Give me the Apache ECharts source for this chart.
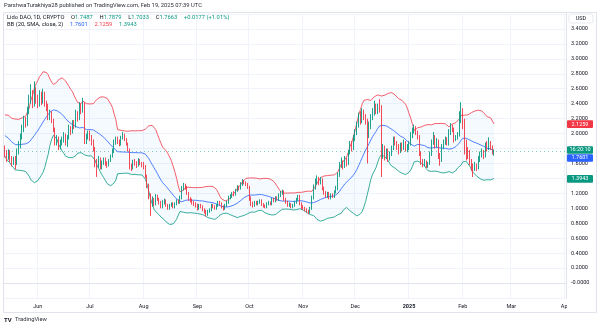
<!DOCTYPE html>
<html><head><meta charset="utf-8">
<script src="https://cdn.jsdelivr.net/npm/echarts/dist/echarts.min.js"></script>
<style>html,body{margin:0;padding:0;background:#fff}#c{width:600px;height:325px}</style>
</head><body><div id="c"></div>
<script>
// ---- data (daily candles, Lido DAO 1D) ----
const startDate = '2024-05-13';
const axisDays = 324; // x axis runs to 2025-04-01
const monthNames = ['2025','Feb','Mar','Apr','May','Jun','Jul','Aug','Sep','Oct','Nov','Dec'];
// closes before the first visible candle (needed for the 20-day bands)
const preCloses = [2.10,2.05,2.18,2.12,2.02,1.96,1.88,1.80,1.92,1.98,2.06,2.14,2.20,2.08,1.96,1.90,1.84,1.76,1.80];

const closeMay = [1.74,1.68,1.75,1.67,1.62,1.66,1.62,1.78,1.84,1.96,2.08,2.18,2.14,2.30,2.44,2.52,2.40,2.56,2.46];
const highMay  = [1.84,1.78,1.79,1.78,1.70,1.69,1.70,1.80,1.90,2.00,2.12,2.24,2.22,2.36,2.52,2.66,2.58,2.70,2.62];
const lowMay   = [1.68,1.62,1.65,1.62,1.56,1.58,1.52,1.58,1.72,1.80,1.92,2.02,2.08,2.10,2.26,2.40,2.34,2.36,2.40];

const closeJun = [2.40,2.50,2.42,2.52,2.40,2.34,2.22,2.28,2.18,2.05,1.88,1.94,1.82,1.88,1.92,1.98,1.86,1.95,2.08,2.02,2.15,2.10,2.28,2.20,2.38,2.30,2.40,1.90,1.96,2.00];
const highJun  = [2.52,2.58,2.56,2.60,2.56,2.44,2.40,2.32,2.30,2.20,2.08,1.98,1.96,1.92,1.96,2.02,2.00,1.98,2.12,2.10,2.18,2.18,2.32,2.30,2.42,2.40,2.48,2.42,2.00,2.04];
const lowJun   = [2.34,2.36,2.38,2.40,2.36,2.30,2.18,2.18,2.14,2.02,1.84,1.84,1.78,1.79,1.84,1.88,1.84,1.82,1.92,1.98,2.00,2.06,2.08,2.16,2.18,2.26,2.28,1.86,1.86,1.92];

const closeJul = [1.94,1.88,1.80,1.62,1.58,1.66,1.56,1.62,1.65,1.60,1.58,1.64,1.70,1.76,1.88,1.92,1.90,1.86,1.94,1.98,1.92,1.86,1.78,1.56,1.54,1.62,1.60,1.58,1.64,1.60,1.58];
const highJul  = [2.04,1.98,1.92,1.82,1.66,1.70,1.68,1.64,1.68,1.68,1.63,1.66,1.72,1.80,1.92,1.96,1.96,1.92,1.97,2.02,2.00,1.94,1.88,1.80,1.60,1.65,1.66,1.63,1.67,1.66,1.62];
const lowJul   = [1.90,1.84,1.76,1.55,1.42,1.54,1.52,1.52,1.58,1.57,1.54,1.56,1.62,1.68,1.74,1.85,1.86,1.83,1.84,1.92,1.90,1.84,1.76,1.52,1.50,1.52,1.57,1.54,1.56,1.58,1.55];

const closeAug = [1.55,1.42,1.30,1.16,1.05,1.12,1.06,1.16,1.12,1.08,1.02,1.08,1.10,1.04,1.00,1.04,1.06,1.02,1.06,1.10,1.08,1.14,1.26,1.30,1.28,1.20,1.12,1.10,1.08,1.06,1.04];
const highAug  = [1.62,1.58,1.45,1.33,1.20,1.16,1.14,1.19,1.18,1.14,1.10,1.11,1.13,1.12,1.06,1.06,1.08,1.08,1.08,1.12,1.12,1.17,1.30,1.34,1.33,1.30,1.22,1.15,1.13,1.10,1.08];
const lowAug   = [1.52,1.40,1.27,1.12,0.90,1.02,1.03,1.04,1.10,1.05,1.00,1.00,1.05,1.02,0.98,0.98,1.02,1.00,1.00,1.04,1.06,1.06,1.12,1.24,1.25,1.18,1.10,1.08,1.05,1.03,1.01];

const closeSep = [1.00,1.04,1.02,0.98,0.96,0.92,0.96,0.98,1.04,1.02,1.00,1.04,1.08,1.06,1.02,1.00,1.04,1.08,1.14,1.16,1.20,1.18,1.24,1.28,1.26,1.32,1.36,1.34,1.32,1.28];
const highSep  = [1.06,1.06,1.06,1.04,1.00,0.98,0.98,1.00,1.06,1.06,1.04,1.06,1.10,1.10,1.08,1.04,1.06,1.10,1.17,1.19,1.22,1.23,1.26,1.31,1.30,1.35,1.39,1.38,1.36,1.34];
const lowSep   = [0.97,0.98,1.00,0.96,0.93,0.89,0.90,0.94,0.96,1.00,0.98,0.98,1.02,1.04,1.00,0.97,0.98,1.02,1.06,1.12,1.14,1.16,1.17,1.22,1.24,1.25,1.30,1.32,1.30,1.26];

const closeOct = [1.14,1.06,1.04,1.08,1.06,1.08,1.10,1.05,1.03,1.02,1.06,1.08,1.06,1.12,1.10,1.14,1.12,1.18,1.20,1.22,1.12,1.08,1.04,1.06,1.02,1.04,1.08,1.12,1.16,1.06,1.02];
const highOct  = [1.30,1.16,1.09,1.10,1.10,1.10,1.12,1.12,1.07,1.05,1.08,1.10,1.09,1.14,1.14,1.16,1.16,1.20,1.23,1.25,1.24,1.14,1.10,1.08,1.07,1.06,1.10,1.14,1.18,1.18,1.08];
const lowOct   = [1.10,1.03,1.01,1.02,1.04,1.04,1.06,1.03,1.01,1.00,1.00,1.04,1.04,1.04,1.08,1.08,1.10,1.10,1.15,1.18,1.10,1.06,1.02,1.02,1.00,1.00,1.02,1.06,1.10,1.04,0.99];

const closeNov = [1.00,0.98,0.96,0.95,1.00,1.14,1.28,1.36,1.40,1.34,1.38,1.26,1.20,1.16,1.20,1.14,1.18,1.16,1.22,1.26,1.44,1.58,1.62,1.56,1.66,1.60,1.74,1.86,1.80,1.94];
const highNov  = [1.04,1.02,1.00,0.98,1.02,1.17,1.32,1.40,1.44,1.42,1.42,1.40,1.29,1.23,1.22,1.22,1.20,1.20,1.24,1.30,1.48,1.62,1.68,1.64,1.70,1.68,1.78,1.90,1.90,1.98];
const lowNov   = [0.98,0.96,0.94,0.92,0.93,0.98,1.12,1.25,1.32,1.31,1.32,1.24,1.18,1.14,1.14,1.12,1.12,1.14,1.14,1.20,1.24,1.42,1.54,1.52,1.54,1.56,1.58,1.72,1.76,1.78];

const closeDec = [2.02,2.12,2.22,2.18,2.26,2.22,2.16,2.00,2.12,2.22,2.28,2.34,2.30,2.34,2.32,1.72,1.80,1.70,1.76,1.68,1.72,1.80,1.92,1.88,1.82,1.76,1.84,1.80,1.88,1.78,1.82];
const highDec  = [2.06,2.16,2.28,2.30,2.34,2.32,2.26,2.20,2.16,2.26,2.34,2.44,2.40,2.40,2.46,2.38,1.86,1.84,1.80,1.80,1.76,1.84,1.96,1.96,1.90,1.86,1.88,1.88,1.92,1.90,1.86];
const lowDec   = [1.90,1.98,2.08,2.12,2.14,2.18,2.12,1.60,1.94,2.06,2.18,2.24,2.26,2.26,2.28,1.42,1.66,1.64,1.66,1.62,1.64,1.70,1.78,1.84,1.78,1.72,1.74,1.76,1.78,1.76,1.75];

const closeJan = [1.86,1.98,2.04,2.08,2.02,1.96,1.72,1.62,1.58,1.62,1.56,1.60,1.72,1.88,1.96,1.84,1.90,1.70,1.64,1.82,1.88,1.92,1.86,2.02,2.10,2.06,1.92,1.94,1.98,2.18,2.28];
const highJan  = [1.90,2.02,2.08,2.12,2.10,2.04,1.98,1.76,1.66,1.66,1.64,1.62,1.76,1.92,2.02,1.98,1.94,1.92,1.74,1.86,1.92,1.96,1.95,2.06,2.14,2.12,2.08,1.98,2.02,2.30,2.42];
const lowJan   = [1.78,1.84,1.94,2.00,1.98,1.92,1.70,1.58,1.55,1.56,1.54,1.54,1.58,1.70,1.85,1.80,1.82,1.66,1.57,1.62,1.79,1.85,1.84,1.84,1.98,2.02,1.88,1.90,1.92,1.96,2.14];

const closeFeb = [2.14,1.86,1.76,1.72,1.62,1.56,1.52,1.58,1.54,1.66,1.72,1.76,1.70,1.84,1.80,1.88,1.82,1.7487,1.7663];
const highFeb  = [2.34,2.20,1.92,1.82,1.78,1.66,1.60,1.62,1.60,1.70,1.76,1.80,1.78,1.88,1.90,1.95,1.90,1.84,1.7879];
const lowFeb   = [2.06,1.72,1.64,1.66,1.58,1.50,1.42,1.50,1.50,1.52,1.62,1.68,1.66,1.68,1.76,1.78,1.78,1.72,1.7033];

// text labels shown in the picture
const headerText = 'ParshwaTurakhiya28 published on TradingView.com, Feb 19, 2025 07:39 UTC';
const symbolText = 'Lido DAO, 1D, CRYPTO';
const ohlcLabels = ['1.7487','1.7879','1.7033','1.7663','+0.0177 (+1.01%)'];
const bbText = 'BB (20, SMA, close, 2)';
const bbLabels = ['1.7601','2.1259','1.3943']; // basis, upper, lower
const countdownText = '16:20:10';
const yMin = -0.2, yMax = 3.6, yStep = 0.2;

// ---- build ----
const closes = [].concat(closeMay,closeJun,closeJul,closeAug,closeSep,closeOct,closeNov,closeDec,closeJan,closeFeb);
const highs  = [].concat(highMay,highJun,highJul,highAug,highSep,highOct,highNov,highDec,highJan,highFeb);
const lows   = [].concat(lowMay,lowJun,lowJul,lowAug,lowSep,lowOct,lowNov,lowDec,lowJan,lowFeb);

const dates = [];
const d0 = new Date(startDate + 'T00:00:00Z');
for (let i = 0; i < axisDays; i++) {
  const d = new Date(d0.getTime() + i * 86400000);
  dates.push(d.toISOString().slice(0,10));
}
const candles = closes.map((c, i) => {
  const o = i === 0 ? preCloses[preCloses.length-1] : closes[i-1];
  return [o, c, Math.min(lows[i], o, c), Math.max(highs[i], o, c)];
});
const allCloses = preCloses.concat(closes);
const basis = [], upper = [], lower = [], bandH = [];
for (let i = 0; i < closes.length; i++) {
  const w = allCloses.slice(i + preCloses.length - 19, i + preCloses.length + 1);
  const m = w.reduce((a,b)=>a+b,0) / w.length;
  const sd = Math.sqrt(w.reduce((a,b)=>a+(b-m)*(b-m),0) / w.length);
  basis.push(+m.toFixed(4)); upper.push(+(m+2*sd).toFixed(4)); lower.push(+(m-2*sd).toFixed(4));
  bandH.push(+(4*sd).toFixed(4));
}
const lastClose = closes[closes.length-1];

const FONT = 'Roboto, "Liberation Sans", sans-serif';
const UP = '#089981', DOWN = '#f23645', BLUE = '#2962ff', GRID = '#f0f3fa', TXT = '#131722';
const isMonthStart = (idx, val) => typeof val === 'string' && val.slice(8) === '01';

const chart = echarts.init(document.getElementById('c'));
chart.setOption({
  animation: false,
  backgroundColor: '#fff',
  grid: { left: 4, right: 34, top: 14, bottom: 27, containLabel: false, outerBoundsMode: 'none' },
  xAxis: {
    type: 'category', data: dates, boundaryGap: true,
    axisLine: { show: true, lineStyle: { color: '#e0e3eb' } },
    axisTick: { show: false },
    axisLabel: {
      interval: isMonthStart, margin: 6, fontSize: 5.5, color: TXT, fontFamily: FONT,
      formatter: v => { const m = +v.slice(5,7); return m === 1 ? '{b|' + monthNames[0] + '}' : monthNames[m-1]; },
      rich: { b: { fontWeight: 'bold', fontSize: 5.5, color: TXT, fontFamily: FONT } }
    },
    splitLine: { show: true, interval: isMonthStart, lineStyle: { color: GRID, width: 1 } }
  },
  yAxis: {
    type: 'value', position: 'right', min: yMin, max: yMax, interval: yStep, scale: false,
    axisLine: { show: true, lineStyle: { color: '#e0e3eb' } },
    axisTick: { show: false },
    splitLine: { show: true, lineStyle: { color: GRID, width: 1 } },
    axisLabel: {
      margin: 5, fontSize: 5.5, color: TXT, fontFamily: FONT,
      formatter: v => {
        if (v > yMax - 0.01 || v < -0.1) return '';
        if (Math.abs(v) < 1e-9) return '-0.0000';
        return v.toFixed(4);
      }
    }
  },
  series: [
    { name: 'bbBase', type: 'line', data: lower, stack: 'bb', symbol: 'none', silent: true,
      lineStyle: { opacity: 0 }, z: 1 },
    { name: 'bbFill', type: 'line', data: bandH, stack: 'bb', symbol: 'none', silent: true,
      lineStyle: { opacity: 0 }, areaStyle: { color: 'rgba(33,150,243,0.07)' }, z: 1 },
    { name: 'candles', type: 'candlestick', data: candles, barWidth: 1.2, z: 3,
      itemStyle: { color: UP, color0: DOWN, borderColor: UP, borderColor0: DOWN, borderWidth: 0.9 },
      markLine: { silent: true, symbol: 'none', label: { show: false },
        lineStyle: { color: UP, type: [1, 3], width: 0.7, opacity: 0.7 }, data: [{ yAxis: lastClose }] } },
    { name: 'upper', type: 'line', data: upper, symbol: 'none', lineStyle: { color: DOWN, width: 0.8 }, z: 2 },
    { name: 'basis', type: 'line', data: basis, symbol: 'none', lineStyle: { color: BLUE, width: 0.8 }, z: 2 },
    { name: 'lower', type: 'line', data: lower, symbol: 'none', lineStyle: { color: UP, width: 0.8 }, z: 2 }
  ]
});

const py = v => chart.convertToPixel({ yAxisIndex: 0 }, v);
function priceBox(text, cy, color) {
  return { type: 'group', z: 100, children: [
    { type: 'rect', shape: { x: 567, y: cy - 3.8, width: 26, height: 7.6, r: 1 }, style: { fill: color }, z: 100 },
    { type: 'text', x: 580, y: cy, style: { text: text, fill: '#fff', fontSize: 5.5, fontFamily: FONT,
      align: 'center', verticalAlign: 'middle' }, z: 101 }
  ]};
}
const rich = {
  s: { fill: TXT, fontSize: 5.8, fontFamily: FONT },
  g: { fill: UP, fontSize: 5.8, fontFamily: FONT },
  b: { fill: BLUE, fontSize: 5.8, fontFamily: FONT },
  r: { fill: DOWN, fontSize: 5.8, fontFamily: FONT }
};
chart.setOption({
  graphic: [
    { type: 'rect', shape: { x: 3.5, y: 12.5, width: 593, height: 300 }, style: { fill: 'none', stroke: '#e0e3eb', lineWidth: 1 }, z: 50 },
    { type: 'rect', shape: { x: 567, y: 299, width: 29, height: 13 }, style: { fill: '#fff' }, z: 60 },
    { type: 'text', x: 4, y: 6, style: { text: headerText, fill: '#2a2e39', fontSize: 5.8, fontFamily: FONT, verticalAlign: 'middle' }, z: 60 },
    { type: 'text', x: 7, y: 17.5, z: 60, style: { verticalAlign: 'middle', rich: rich,
      text: '{s|' + symbolText + '}  {s|O}{g|' + ohlcLabels[0] + '}  {s|H}{g|' + ohlcLabels[1] + '}  {s|L}{g|' + ohlcLabels[2] +
            '}  {s|C}{g|' + ohlcLabels[3] + '}  {g|' + ohlcLabels[4] + '}' } },
    { type: 'text', x: 7, y: 24.5, z: 60, style: { verticalAlign: 'middle', rich: rich,
      text: '{s|' + bbText + '}  {b|' + bbLabels[0] + '}  {r|' + bbLabels[1] + '}  {g|' + bbLabels[2] + '}' } },
    { type: 'rect', shape: { x: 569, y: 14, width: 24, height: 9, r: 2 }, style: { fill: '#fff', stroke: '#e0e3eb', lineWidth: 0.8 }, z: 60 },
    { type: 'text', x: 581, y: 18.5, style: { text: 'USD', fill: TXT, fontSize: 5.5, fontFamily: FONT, align: 'center', verticalAlign: 'middle' }, z: 61 },
    priceBox(bbLabels[1], py(+bbLabels[1]), DOWN),
    priceBox(countdownText, py(lastClose) - 1, UP),
    priceBox(bbLabels[0], py(+bbLabels[0]) + 6.5, BLUE),
    priceBox(bbLabels[2], py(+bbLabels[2]), UP),
    { type: 'text', x: 4, y: 320, style: { text: 'TV', fill: TXT, fontSize: 6, fontWeight: 'bold', fontFamily: FONT, verticalAlign: 'middle' }, z: 60 },
    { type: 'text', x: 15, y: 320, style: { text: 'TradingView', fill: '#2a2e39', fontSize: 5.8, fontFamily: FONT, verticalAlign: 'middle' }, z: 60 }
  ]
});
</script>
</body></html>
